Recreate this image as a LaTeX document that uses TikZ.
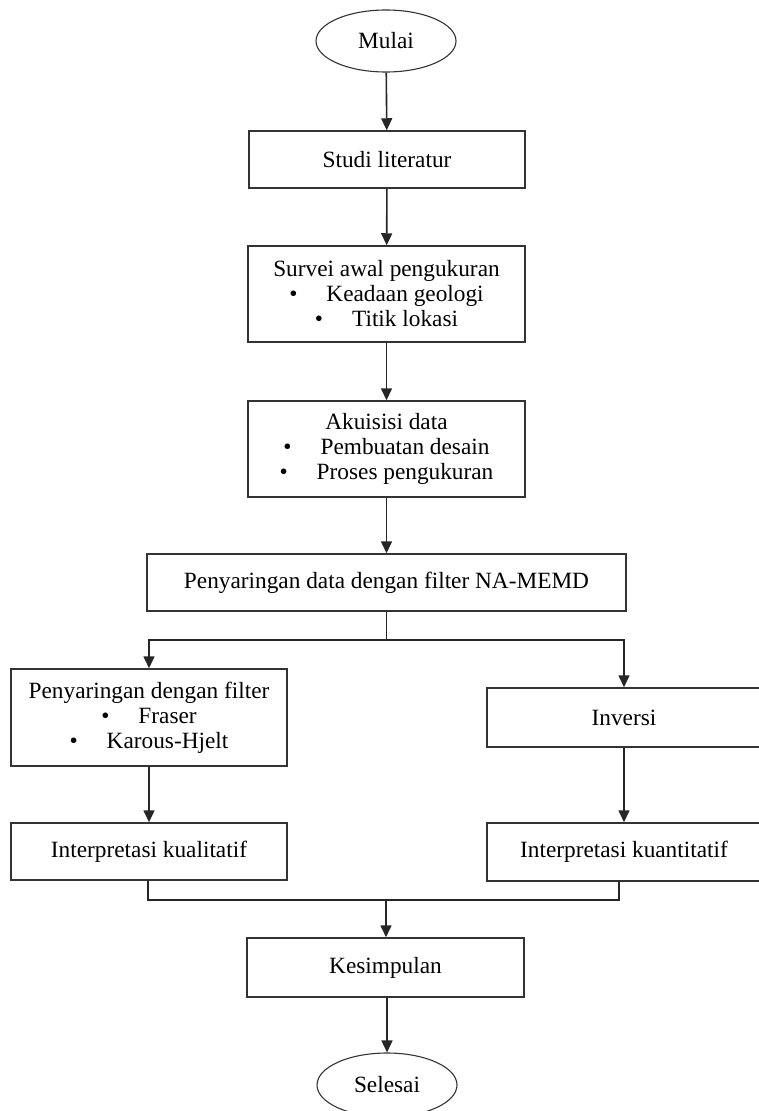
\documentclass[tikz,border=0pt]{standalone}
\usepackage{fontspec}
\setmainfont{Liberation Serif}
\usetikzlibrary{arrows.meta,shapes.geometric}
\begin{document}
\begin{tikzpicture}[x=1pt,y=-1pt,
  every node/.style={font=\fontsize{23.3}{25}\selectfont, text=black},
  box/.style={draw=black!80, line width=1.5pt, rectangle, inner sep=0pt, align=center},
  term/.style={draw=black!80, line width=1.1pt, ellipse, inner sep=0pt},
  conn/.style={draw=black!85, line width=1.6pt},
  arr/.style={conn, -{Triangle[width=11pt,length=12pt]}}
]
\useasboundingbox (0,0) rectangle (759,1111);
\clip (0,0) rectangle (759,1111);
\newcommand{\bul}[1]{\textbullet\hspace{29pt}#1}

\node[term, minimum width=140pt, minimum height=62pt] (start) at (386,41) {Mulai};
\node[box, minimum width=276pt, minimum height=57pt] (studi) at (387,159.5) {Studi literatur};
\node[box, minimum width=277pt, minimum height=96pt] (survei) at (386.5,294) {Survei awal pengukuran\\\bul{Keadaan geologi}\\\bul{Titik lokasi}};
\node[box, minimum width=277pt, minimum height=96pt] (akuisisi) at (386.5,449) {Akuisisi data\\\bul{Pembuatan desain}\\\bul{Proses pengukuran}};
\node[box, minimum width=479pt, minimum height=57pt] (namemd) at (386.5,582.5) {Penyaringan data dengan filter NA-MEMD};
\node[box, minimum width=276pt, minimum height=97pt] (filter) at (149,717.5) {Penyaringan dengan filter\\\bul{Fraser}\\\bul{Karous-Hjelt}};
\node[box, minimum width=276pt, minimum height=57pt] (kual) at (149,851.5) {Interpretasi kualitatif};
\node[box, minimum width=274pt, minimum height=59pt] (inversi) at (624,717.5) {Inversi};
\node[box, minimum width=274pt, minimum height=58pt] (kuan) at (624,852) {Interpretasi kuantitatif};
\node[box, minimum width=277pt, minimum height=59pt] (kesim) at (385.5,967.5) {Kesimpulan};
\node[term, minimum width=140pt, minimum height=64pt] (end) at (387,1085) {Selesai};

\coordinate (split) at (386.5,640);
\coordinate (merge) at (386,900);

\draw[arr] (start) -- (studi);
\draw[arr] (studi) -- (survei);
\draw[arr] (survei) -- (akuisisi);
\draw[arr] (akuisisi) -- (namemd);
\draw[conn] (namemd.south) -- (split);
\draw[arr] (split) -| (filter.north);
\draw[arr] (split) -| (inversi.north);
\draw[arr] (filter) -- (kual);
\draw[arr] (inversi) -- (kuan);
\draw[conn] ([xshift=-1pt]kual.south) |- (merge);
\draw[conn] ([xshift=-5pt]kuan.south) |- (merge);
\draw[arr] (merge) -- (kesim.north -| merge);
\draw[arr] (kesim.south -| end) -- (end);
\end{tikzpicture}
\end{document}
